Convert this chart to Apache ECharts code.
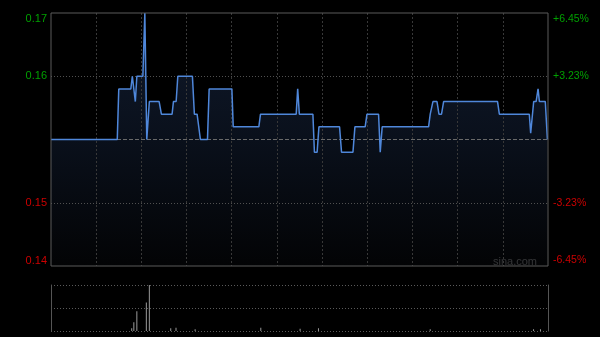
<!DOCTYPE html>
<html>
<head>
<meta charset="utf-8">
<script src="https://cdn.jsdelivr.net/npm/echarts@6/dist/echarts.min.js"></script>
<style>
html,body{margin:0;padding:0;background:#000;}
#c{width:600px;height:337px;}
</style>
</head>
<body>
<div id="c"></div>
<script>
// ---- data (minutes since 09:30, trading minutes) ----
const prevClose = 0.155;
const priceTimes = [0,44,45,53,54,55,56,57,61,62.3,63.6,64.5,65.3,71.8,73.3,80.4,81.3,83.1,84.2,93.9,95.2,97,99.2,103.9,105,120.1,121,138,139.1,162.8,163.8,164.9,173.9,174.9,176.7,177.9,191.6,192.9,200.5,201.8,208.6,209.8,217.5,218.6,219.9,250.7,251.8,252.5,253.6,256.3,257.6,259.3,260.7,296.5,297.7,317.6,318.5,320.5,322.1,323.4,324.3,328.2,329.6];
const prices = [0.155,0.155,0.159,0.159,0.160,0.160,0.158,0.160,0.160,0.165,0.155,0.155,0.158,0.158,0.157,0.157,0.158,0.158,0.160,0.160,0.157,0.157,0.155,0.155,0.159,0.159,0.156,0.156,0.157,0.157,0.159,0.157,0.157,0.154,0.154,0.156,0.156,0.154,0.154,0.156,0.156,0.157,0.157,0.154,0.156,0.156,0.157,0.157,0.158,0.158,0.157,0.157,0.158,0.158,0.157,0.157,0.1555,0.158,0.158,0.159,0.158,0.158,0.155];
const volTimes = [53.6,55,57,63.3,65.3,79.5,83,95.7,139.3,165.4,177.6,251.8,320.4,325];
const volumes = [6,19,43,62,100,6,7,4,7,5,6,4,4,4];
const priceTickLabels = ['0.14','0.15','','0.16','0.17'];
const pctTickLabels = ['-6.45%','-3.23%','','+3.23%','+6.45%'];

const yMin = 0.145, yMax = 0.165, yInt = 0.005;
const sessionMinutes = 330;

const priceData = priceTimes.map((t,i)=>[t,prices[i]]);
const volData = volTimes.map((t,i)=>[t,volumes[i]]);
const prevCloseData = [[0,prevClose],[sessionMinutes,prevClose]];

function tickIndex(v){ return Math.round((v - yMin)/yInt); }
function labelFmt(arr){
  return function(v){
    const i = tickIndex(v);
    const s = arr[i] || '';
    if (!s) return '';
    const up = i > 2;
    let key = up ? 'g' : 'r';
    if (i === arr.length-1) key += 'Top';
    else if (i === 0) key += 'Bot';
    return '{' + key + '|' + s + '}';
  };
}
const FONT = 'Arial, "Liberation Sans", sans-serif';
const GREEN = '#00a000', RED = '#cc0000';
function richSet(size){
  return {
    g:{color:GREEN,fontSize:size,fontFamily:FONT},
    r:{color:RED,fontSize:size,fontFamily:FONT},
    gTop:{color:GREEN,fontSize:size,fontFamily:FONT,padding:[12,0,0,0]},
    rBot:{color:RED,fontSize:size,fontFamily:FONT,padding:[0,0,11,0]}
  };
}

const chart = echarts.init(document.getElementById('c'), null, {renderer:'canvas'});
chart.setOption({
  backgroundColor:'#000',
  animation:false,
  grid:[
    {left:51,top:13,width:497,height:253,show:true,borderColor:'#5a5a5a',borderWidth:1,backgroundColor:'transparent',z:6},
    {left:51,top:285,width:497,height:46,show:false}
  ],
  xAxis:[
    {type:'value',gridIndex:0,min:0,max:sessionMinutes,interval:30,z:3,
     axisLine:{show:false},axisTick:{show:false},axisLabel:{show:false},
     splitLine:{show:true,showMinLine:false,showMaxLine:false,lineStyle:{color:'#383838',type:[2,2],width:1}}},
    {type:'value',gridIndex:1,min:0,max:sessionMinutes,interval:30,
     axisLine:{show:false},axisTick:{show:false},axisLabel:{show:false},splitLine:{show:false}}
  ],
  yAxis:[
    {type:'value',gridIndex:0,min:yMin,max:yMax,interval:yInt,position:'left',z:3,
     axisLine:{show:false},axisTick:{show:false},
     axisLabel:{show:true,margin:4,formatter:labelFmt(priceTickLabels),rich:richSet(11)},
     splitLine:{show:true,showMinLine:false,showMaxLine:false,lineStyle:{color:'#505050',type:[1,2],width:1}}},
    {type:'value',gridIndex:0,min:yMin,max:yMax,interval:yInt,position:'right',
     axisLine:{show:false},axisTick:{show:false},
     axisLabel:{show:true,margin:5,formatter:labelFmt(pctTickLabels),rich:richSet(10.5)},
     splitLine:{show:false}},
    {type:'value',gridIndex:1,min:0,max:100,interval:50,position:'left',
     axisLine:{show:true,lineStyle:{color:'#555',width:1}},axisTick:{show:false},axisLabel:{show:false},
     splitLine:{show:true,lineStyle:{color:'#5a5a5a',type:[1,2],width:1}}},
    {type:'value',gridIndex:1,min:0,max:100,interval:50,position:'right',
     axisLine:{show:true,lineStyle:{color:'#555',width:1}},axisTick:{show:false},axisLabel:{show:false},
     splitLine:{show:false}}
  ],
  series:[
    {type:'line',xAxisIndex:0,yAxisIndex:0,data:priceData,symbol:'none',silent:true,
     lineStyle:{width:0,opacity:0},
     areaStyle:{origin:'start',color:new echarts.graphic.LinearGradient(0,0,0,1,[
       {offset:0,color:'#17243f'},{offset:0.5,color:'#0e1727'},{offset:1,color:'#040507'}])},
     z:1},
    {type:'line',xAxisIndex:0,yAxisIndex:0,data:prevCloseData,symbol:'none',silent:true,
     lineStyle:{color:'#6a6a6a',type:[4,2],width:1},z:4},
    {type:'line',xAxisIndex:0,yAxisIndex:0,data:priceData,symbol:'none',silent:true,
     lineStyle:{color:'#4f87da',width:1.5},z:5},
    {type:'bar',xAxisIndex:1,yAxisIndex:2,data:volData,barWidth:1,silent:true,
     itemStyle:{color:'#9a9a9a'}}
  ],
  graphic:[
    {type:'text',right:63,top:256,style:{text:'sina.com',fill:'#a0a0a0',font:'11px '+FONT}}
  ]
});
</script>
</body>
</html>
